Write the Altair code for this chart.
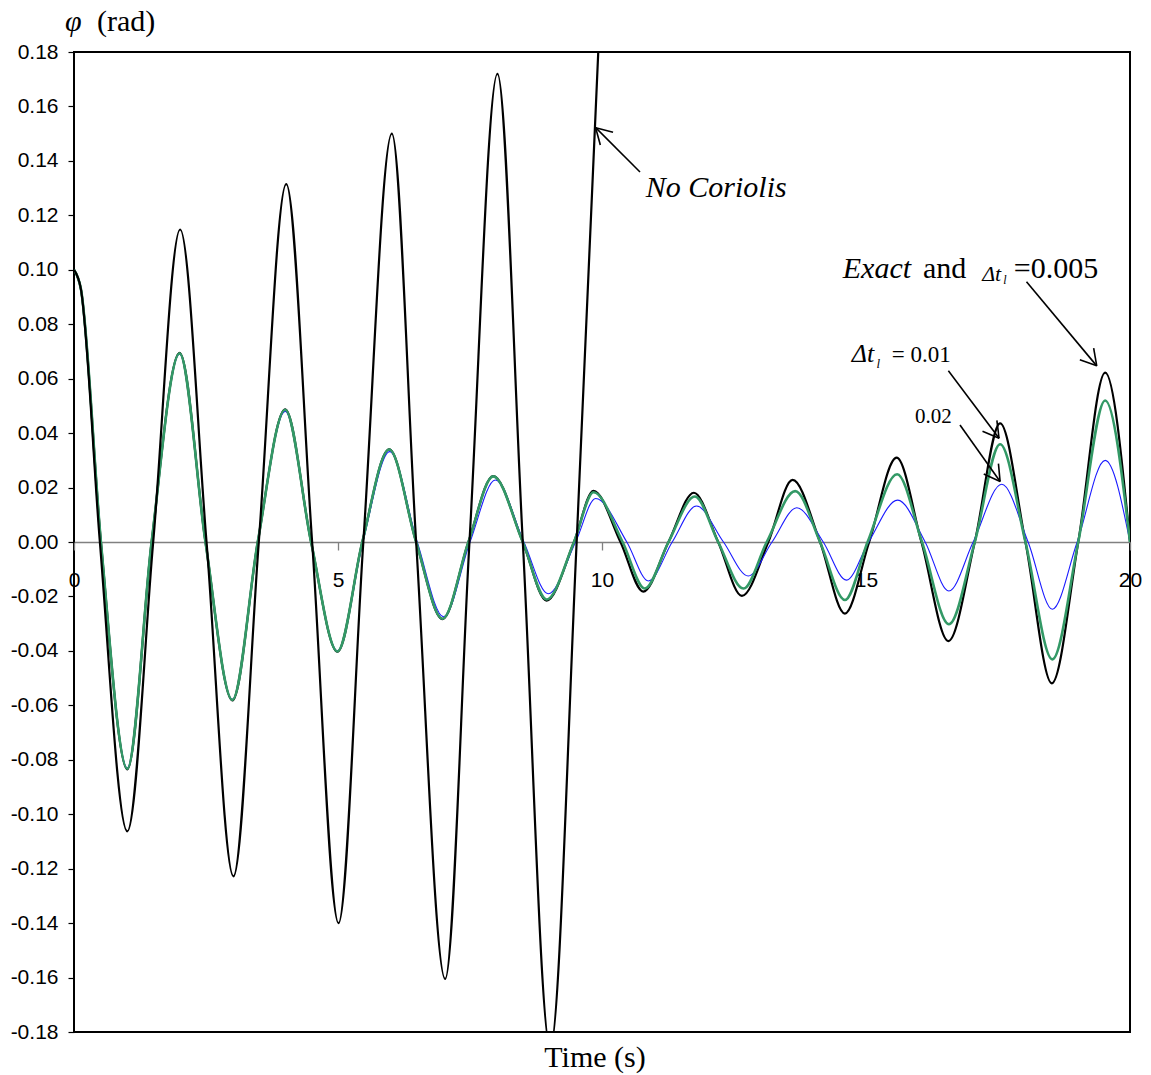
import math
import altair as alt
import pandas as pd

# ---------------- data ----------------
# "No Coriolis" (black, grows until it leaves the plot)
t_nocor = [0.0, 0.13, 0.49, 1.01, 1.50, 2.01, 2.51, 3.02, 3.50, 4.02, 4.51,
           5.01, 5.48, 6.02, 6.48, 7.03, 7.49, 8.02, 8.50, 9.02, 9.52, 9.97]
v_nocor = [0.100, 0.093, 0.0, -0.1063, 0.0, 0.1148, 0.0, -0.1228, 0.0, 0.1315, 0.0,
           -0.140, 0.0, 0.150, 0.0, -0.1605, 0.0, 0.172, 0.0, -0.186, 0.0, 0.198]

# "Exact" and dt = 0.005 (black)
t_exact = [0.0, 0.13, 0.51, 1.01, 1.47, 2.0, 2.49, 3.0, 3.48, 4.0, 4.49,
           4.99, 5.46, 5.97, 6.48, 6.98, 7.47, 7.94, 8.50, 8.95, 9.47,
           9.84, 10.35, 10.78, 11.26, 11.74, 12.20, 12.65, 13.15, 13.61, 14.13,
           14.60, 15.06, 15.58, 16.05, 16.56, 17.06, 17.54, 18.02, 18.52, 19.02,
           19.53, 20.0]
v_exact = [0.100, 0.093, 0.0, -0.0835, 0.0, 0.0695, 0.0, -0.0582, 0.0, 0.0487, 0.0,
           -0.0403, 0.0, 0.0340, 0.0, -0.0283, 0.0, 0.0242, 0.0, -0.0215, 0.0,
           0.0188, 0.0, -0.0182, 0.0, 0.0181, 0.0, -0.0198, 0.0, 0.0228, 0.0,
           -0.0263, 0.0, 0.0310, 0.0, -0.0364, 0.0, 0.0436, 0.0, -0.0519, 0.0,
           0.0622, 0.0]

# dt = 0.01 (green)
t_dt01 = [0.0, 0.13, 0.51, 1.01, 1.47, 2.0, 2.49, 3.0, 3.48, 4.0, 4.49,
          4.99, 5.46, 5.97, 6.48, 6.98, 7.47, 7.94, 8.50, 8.95, 9.47,
          9.84, 10.39, 10.81, 11.26, 11.76, 12.20, 12.68, 13.12, 13.66, 14.13,
          14.60, 15.03, 15.59, 16.06, 16.57, 17.06, 17.54, 18.02, 18.53, 19.02,
          19.53, 20.0]
v_dt01 = [0.100, 0.093, 0.0, -0.0833, 0.0, 0.0693, 0.0, -0.0580, 0.0, 0.0486, 0.0,
          -0.0402, 0.0, 0.0340, 0.0, -0.0282, 0.0, 0.0241, 0.0, -0.0211, 0.0,
          0.0183, 0.0, -0.0171, 0.0, 0.0167, 0.0, -0.0171, 0.0, 0.0187, 0.0,
          -0.0213, 0.0, 0.0249, 0.0, -0.0302, 0.0, 0.0359, 0.0, -0.0431, 0.0,
          0.0520, 0.0]

# dt = 0.02 (blue)
t_dt02 = [0.0, 0.13, 0.51, 1.01, 1.47, 2.0, 2.49, 3.0, 3.48, 4.0, 4.49,
          4.99, 5.47, 5.98, 6.50, 7.0, 7.50, 7.98, 8.52, 8.98, 9.50,
          9.88, 10.47, 10.88, 11.33, 11.79, 12.30, 12.77, 13.22, 13.69, 14.19,
          14.63, 15.05, 15.60, 16.12, 16.57, 17.03, 17.57, 18.07, 18.53, 19.00,
          19.53, 20.0]
v_dt02 = [0.100, 0.093, 0.0, -0.0830, 0.0, 0.0690, 0.0, -0.0578, 0.0, 0.0480, 0.0,
          -0.0400, 0.0, 0.0332, 0.0, -0.0275, 0.0, 0.0228, 0.0, -0.0190, 0.0,
          0.0160, 0.0, -0.0143, 0.0, 0.0132, 0.0, -0.0125, 0.0, 0.0126, 0.0,
          -0.0140, 0.0, 0.0154, 0.0, -0.0180, 0.0, 0.0212, 0.0, -0.0247, 0.0,
          0.0300, 0.0]

y_ticks = [round(-0.18 + 0.02 * i, 2) for i in range(19)]
x_ticks = [0, 5, 10, 15, 20]

# ---------------- layout ----------------
W, H = 1056, 980
T_MAX, V_MIN, V_MAX = 20.0, -0.18, 0.18
SX = W / T_MAX
SY = H / (V_MAX - V_MIN)
SERIF = "Liberation Serif, Times New Roman, serif"
SANS = "Liberation Sans, Arial, sans-serif"

xs = alt.Scale(domain=[0, T_MAX], nice=False, zero=False)
ys = alt.Scale(domain=[V_MIN, V_MAX], nice=False, zero=False)

x_axis = alt.Axis(values=x_ticks, format="d", title=None, grid=False,
                  offset=-(H * V_MAX / (V_MAX - V_MIN)),
                  domainColor="#808080", domainWidth=1.3,
                  tickColor="#808080", tickSize=8, tickWidth=1.3,
                  labelFont=SANS, labelFontSize=21, labelColor="black",
                  labelPadding=19, labelFlush=False, labelOverlap=False, zindex=0)
y_axis = alt.Axis(values=y_ticks, title=None, grid=False, domain=False,
                  labelExpr="(datum.value < 0 ? '-' : '') + format(abs(datum.value), '.2f')",
                  tickColor="black", tickSize=6, tickWidth=1.2,
                  labelFont=SANS, labelFontSize=21, labelColor="black",
                  labelPadding=10, labelFlush=False, labelOverlap=False)

X = alt.X("t:Q", scale=xs, axis=x_axis)
Y = alt.Y("v:Q", scale=ys, axis=y_axis)


def series(ts, vs, color, width):
    df = pd.DataFrame({"t": ts, "v": vs})
    return alt.Chart(df).mark_line(color=color, strokeWidth=width, clip=True,
                                   interpolate="monotone").encode(x=X, y=Y, order="t:Q")


exact = series(t_exact, v_exact, "black", 2.2)
blue = series(t_dt02, v_dt02, "#1a1aff", 1.1)
green = series(t_dt01, v_dt01, "#339966", 2.6)
nocor = series(t_nocor, v_nocor, "black", 2.2)

# ---------------- annotations (data coordinates) ----------------
arrows = [  # (tail_t, tail_v, tip_t, tip_v)
    (10.72, 0.1359, 9.88, 0.1522),
    (18.04, 0.0956, 19.37, 0.0647),
    (16.56, 0.0629, 17.52, 0.0381),
    (16.78, 0.0430, 17.54, 0.0222),
]
segs = []
for tt, tv, pt, pv in arrows:
    segs.append({"t": tt, "v": tv, "t2": pt, "v2": pv})
    dx = (tt - pt) * SX
    dy = -(tv - pv) * SY
    n = math.hypot(dx, dy)
    ux, uy = dx / n, dy / n
    for a in (math.radians(30), -math.radians(30)):
        wx = ux * math.cos(a) - uy * math.sin(a)
        wy = ux * math.sin(a) + uy * math.cos(a)
        segs.append({"t": pt, "v": pv, "t2": pt + 18 * wx / SX, "v2": pv - 18 * wy / SY})
arrow_layer = alt.Chart(pd.DataFrame(segs)).mark_rule(color="black", strokeWidth=1.6).encode(
    x=X, y=Y, x2="t2:Q", y2="v2:Q")


def label(text, t, v, size, italic=False):
    df = pd.DataFrame({"t": [t], "v": [v], "s": [text]})
    return alt.Chart(df).mark_text(font=SERIF, fontSize=size, align="left", baseline="alphabetic",
                                   fontStyle="italic" if italic else "normal",
                                   color="black").encode(x=X, y=Y, text="s:N")


labels = [
    label("No Coriolis", 10.83, 0.1267, 30, True),
    label("Exact", 14.56, 0.0970, 30, True),
    label("and", 16.08, 0.0970, 30),
    label("\u0394t", 17.20, 0.0958, 22, True),
    label("l", 17.60, 0.0948, 12, True),
    label("=0.005", 17.80, 0.0970, 30),
    label("\u0394t", 14.73, 0.0661, 26, True),
    label("l", 15.20, 0.0641, 13, True),
    label("= 0.01", 15.49, 0.0661, 23),
    label("0.02", 15.93, 0.0437, 21),
]


def fixed_text(text, px, py, size, italic=False, align="left"):
    df = pd.DataFrame({"s": [text]})
    return alt.Chart(df).mark_text(font=SERIF, fontSize=size, align=align, baseline="alphabetic",
                                   fontStyle="italic" if italic else "normal",
                                   color="black").encode(x=alt.value(px), y=alt.value(py), text="s:N")


titles = [
    fixed_text("\u03c6", -9, -21, 30, True),
    fixed_text("(rad)", 23, -21, 30),
    fixed_text("Time (s)", 521, 1015, 30, align="center"),
]

chart = alt.layer(exact, blue, green, nocor, arrow_layer, *labels, *titles).properties(
    width=W, height=H,
    autosize=alt.AutoSizeParams(type="none"),
    padding={"left": 74, "top": 52, "right": 21, "bottom": 43},
    background="white",
).configure_view(stroke="black", strokeWidth=2)

chart.save("out.html", embed_options={"renderer": "svg", "actions": False})
